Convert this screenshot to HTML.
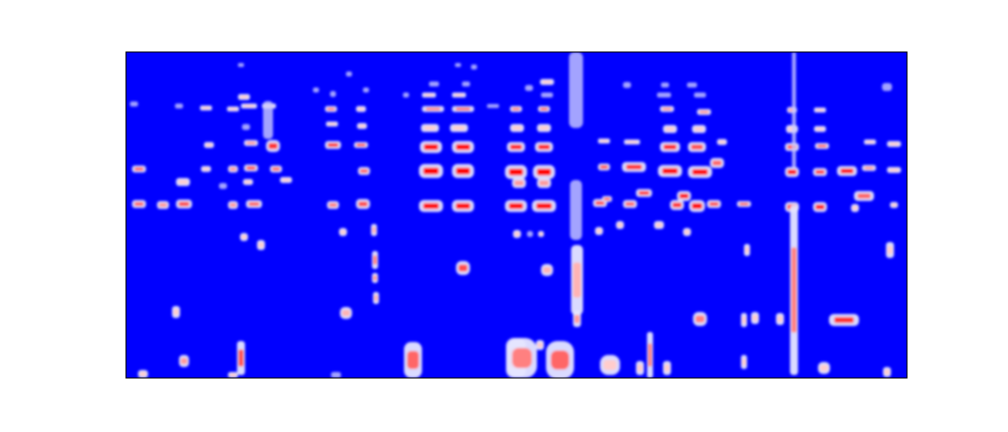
<!DOCTYPE html>
<html><head><meta charset="utf-8"><style>
html,body{margin:0;padding:0;background:#fff;}
svg{display:block;font-family:"Liberation Sans",sans-serif;}
</style></head><body>
<svg id="chart" width="1008" height="432" viewBox="0 0 1008 432">
<defs><filter id="soft" x="-50%" y="-50%" width="200%" height="200%"><feGaussianBlur stdDeviation="1.4"/></filter>
<clipPath id="clip"><rect x="126" y="52" width="781" height="326"/></clipPath></defs>
<rect x="126" y="52" width="781" height="326" fill="#0000ff"/>
<g clip-path="url(#clip)"><g id="marks" filter="url(#soft)"></g></g>
<rect x="126" y="52" width="781" height="326" fill="none" stroke="#000" stroke-width="1"/>
</svg>
<script>
// blobs: time frame, frequency bin, duration (frames), bandwidth (bins), magnitude (0..1, 0.5 = white)
const px = [139,163,184,233,254,333,363,431,463,516,544,600,607,630,644,677,684,697,714,744,792,820,855,864,894,
139,206,233,251,276,364,431,463,516,544,604,634,670,700,717,792,820,847,869,894,183,223,248,286,519,544,
209,251,273,333,361,431,463,516,544,604,632,670,697,722,792,822,870,894,
246,332,362,430,459,517,544,670,699,792,820,
134,179,206,233,249,269,331,361,433,463,493,516,544,667,704,792,820,
244,429,459,547,664,700,
529,547,627,665,692,887,434,466,316,333,366,406,241,349,458,474,
268,
244,261,343,374,375,375,376,463,176,346,241,184,143,233,336,413,516,747,890,547,577,700,744,755,780,844,744,517,530,541,620,599,659,687,522,560,610,650,640,667,824,887,540,
576,576,577,794,794];
const py = [204,205,204,205,204,205,204,206,206,206,206,203,199,204,193,205,196,206,204,204,207,207,208,196,205,
169,169,169,168,169,171,171,171,172,172,167,167,171,172,163,172,172,171,168,170,182,186,182,180,183,183,
145,143,146,145,145,147,147,147,147,141,142,147,147,142,147,146,142,144,
127,124,126,128,128,128,128,129,129,129,129,
104,106,108,109,106,106,109,109,109,109,106,109,109,109,112,110,110,
97,95,95,95,95,95,
88,82,85,85,85,87,84,84,90,94,90,95,65,74,65,67,
120,
237,245,232,230,260,278,298,268,312,313,358,361,374,375,375,360,358,250,250,270,319,319,320,318,319,320,362,234,234,234,225,231,225,232,358,360,365,355,368,368,368,372,345,
90,210,280,110,290];
const dur = [14,12,16,10,16,12,14,24,22,22,24,14,10,14,16,14,14,16,14,14,14,14,8,20,8,
14,10,10,14,12,12,24,22,22,22,12,24,24,24,14,14,14,20,14,14,14,8,10,12,14,14,
10,14,14,16,14,22,22,18,18,12,16,20,18,10,14,14,12,14,
8,12,10,18,18,14,14,14,14,12,12,
8,8,12,12,16,14,12,10,22,22,12,12,12,14,14,10,12,
12,14,14,12,14,12,
8,14,8,8,10,10,10,8,6,6,6,6,6,6,6,6,
10,
8,8,8,6,6,6,6,14,8,12,8,10,10,10,10,18,20,6,8,12,8,14,6,8,8,30,6,8,6,6,8,8,10,8,30,28,20,6,8,8,12,8,8,
14,12,12,4,8];
const bw = [8,8,9,8,8,8,10,12,12,12,12,8,6,8,8,10,10,12,8,6,10,10,8,10,6,
7,6,7,7,7,8,14,14,14,14,7,10,12,12,10,10,8,10,6,6,8,6,6,6,10,10,
6,6,12,8,6,12,12,10,10,5,5,10,10,6,8,6,5,6,
6,5,6,8,8,8,8,8,8,8,6,
5,5,5,5,5,5,6,6,6,6,4,6,6,6,6,6,5,
6,5,5,5,5,5,
6,6,6,5,5,8,5,5,5,6,5,5,4,5,4,5,
38,
8,10,8,12,18,10,12,14,12,12,34,12,8,6,6,36,40,12,16,12,16,14,14,12,12,12,14,8,6,6,8,8,8,8,40,38,20,46,14,14,12,10,10,
76,60,70,116,170];
const mag = [.8,.7,.85,.7,.8,.75,.85,1,1,1,1,.85,.8,.8,.9,.9,1,1,.85,.8,1,.95,.6,.8,.6,
.8,.6,.7,.85,.8,.8,1,1,1,1,.85,.9,1,1,.8,1,.9,1,.7,.6,.6,.5,.6,.6,.7,.7,
.6,.7,.9,.9,.85,1,1,.95,.95,.6,.6,.95,.85,.6,.85,.8,.6,.6,
.55,.6,.6,.6,.6,.6,.6,.6,.6,.6,.6,
.55,.55,.6,.6,.6,.6,.75,.6,.75,.8,.55,.75,.8,.7,.7,.7,.6,
.6,.6,.6,.55,.55,.55,
.55,.6,.55,.55,.55,.55,.55,.55,.55,.55,.55,.5,.5,.5,.5,.5,
.55,
.6,.6,.6,.65,.75,.7,.65,.85,.6,.65,.85,.7,.6,.6,.55,.8,.8,.6,.6,.65,.7,.75,.6,.6,.6,.9,.6,.6,.55,.6,.6,.6,.6,.6,.75,.8,.6,.75,.6,.6,.6,.6,.6,
.5,.55,.65,.55,.75];

// axes: time frames 0..781 -> x, frequency bins 0..326 -> y (low at bottom)
const x0=126, y0=52, W=781, H=326;
const tOf = p => p - x0, fOf = p => (y0 + H) - p;
const xScale = t => x0 + t * (W / 781);
const yScale = f => y0 + H - f * (H / 326);
function bwr(v){
  if (v<=0.5){const k=v/0.5;return `rgb(${Math.round(255*k)},${Math.round(255*k)},255)`;}
  const k=(v-0.5)/0.5;return `rgb(255,${Math.round(255*(1-k))},${Math.round(255*(1-k))})`;
}
const g=document.getElementById('marks'), NS='http://www.w3.org/2000/svg';
for (let i=0;i<px.length;i++){
  const t=tOf(px[i]), f=fOf(py[i]);
  const cx=xScale(t), cy=yScale(f), w=dur[i]*(W/781), h=bw[i]*(H/326), v=mag[i];
  const halo=document.createElementNS(NS,'rect');
  
  
  halo.setAttribute('x',cx-w/2);halo.setAttribute('y',cy-h/2);
  halo.setAttribute('width',w);halo.setAttribute('height',h);
  halo.setAttribute('rx',Math.min(w,h)/2.5);
  halo.setAttribute('fill',bwr(v<=0.55?0.4:0.45));
  halo.setAttribute('opacity', v<=0.55?0.8:0.95);
  g.appendChild(halo);
  if (v>0.55){
    const cw=w*0.65, ch=h*0.5;
    const core=document.createElementNS(NS,'rect');
    
    
    core.setAttribute('x',cx-cw/2);core.setAttribute('y',cy-ch/2);
    core.setAttribute('width',cw);core.setAttribute('height',ch);
    core.setAttribute('rx',Math.min(cw,ch)/3);
    core.setAttribute('fill',bwr(v));
    g.appendChild(core);
  }
}
</script>
</body></html>
